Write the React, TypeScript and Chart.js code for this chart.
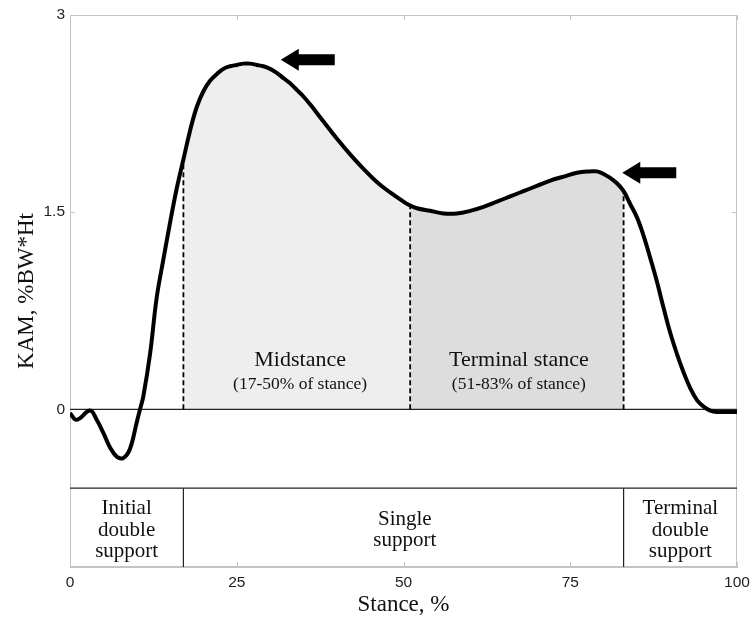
import React, { useEffect, useRef } from "react";
import { Chart, registerables } from "chart.js";

Chart.register(...registerables);

// Knee adduction moment curve (x = stance %, y = %BW*Ht)
const stanceX = [0, 1, 3, 4, 5, 6, 7, 8, 9, 10, 10.5, 11, 12, 13, 14, 15, 16, 17, 18, 19, 20, 21, 22, 23, 24, 25, 26, 27, 28, 29, 30, 31, 32, 33, 34, 35, 36, 38, 40, 42, 44, 46, 48, 50, 51, 52, 54, 56, 58, 60, 62, 64, 66, 68, 70, 72, 74, 76, 78, 79, 80, 81, 82, 83, 84, 85, 86, 87, 88, 89, 90, 91, 92, 93, 94, 95, 96, 97, 100];
const kamY = [-0.03, -0.08, -0.01, -0.08, -0.18, -0.29, -0.36, -0.37, -0.3, -0.1, 0.0, 0.1, 0.42, 0.85, 1.14, 1.42, 1.68, 1.9, 2.12, 2.3, 2.42, 2.5, 2.55, 2.59, 2.61, 2.62, 2.63, 2.63, 2.62, 2.61, 2.59, 2.56, 2.52, 2.48, 2.43, 2.38, 2.32, 2.19, 2.06, 1.94, 1.83, 1.73, 1.65, 1.58, 1.55, 1.53, 1.51, 1.49, 1.49, 1.51, 1.54, 1.58, 1.62, 1.66, 1.7, 1.74, 1.77, 1.8, 1.81, 1.81, 1.79, 1.76, 1.72, 1.66, 1.56, 1.46, 1.32, 1.15, 0.97, 0.77, 0.58, 0.42, 0.28, 0.16, 0.07, 0.02, -0.01, -0.02, -0.02];

// Stance phase boundaries
const phaseBounds = [17, 51, 83];
const phaseFills = ["#eeeeee", "#dddddd"];
const phaseNames = ["Midstance", "Terminal stance"];
const phaseSubs = ["(17-50% of stance)", "(51-83% of stance)"];
const phaseLabelX = [34.5, 67.3];

// Support periods
const supportBounds = [17, 83];
const supportNames = [["Initial", "double", "support"], ["Single", "support"], ["Terminal", "double", "support"]];
const supportLabelX = [8.5, 50.2, 91.5];

// Arrows (tip positions)
const arrowTipX = [31.6, 82.8];
const arrowTipY = [2.66, 1.8];

const xTicks = [0, 25, 50, 75, 100];
const yTicks = [0, 1.5, 3];
const yMin = -1.2;
const yMax = 3;
const bandY = -0.6;
const phaseLabelY = 0.37;
const phaseSubY = 0.19;
const supportLabelY = -0.92;

const curve = stanceX.map((x, i) => ({ x, y: kamY[i] }));
const valueAt = (x: number) => kamY[stanceX.indexOf(x)];

const annotPlugin = {
  id: "annot",
  beforeDatasetsDraw(chart: any) {
    const { ctx, chartArea: a, scales } = chart;
    const xs = scales.x, ys = scales.y;
    ctx.save();
    ctx.strokeStyle = "#c4c4c4";
    ctx.lineWidth = 1;
    ctx.strokeRect(a.left + 0.5, a.top + 0.5, a.right - a.left - 1, a.bottom - a.top - 1);
    // inward ticks
    xTicks.forEach((v) => {
      const px = Math.round(xs.getPixelForValue(v)) + 0.5;
      ctx.beginPath();
      ctx.moveTo(px, a.bottom);
      ctx.lineTo(px, a.bottom - 5);
      ctx.moveTo(px, a.top);
      ctx.lineTo(px, a.top + 5);
      ctx.stroke();
    });
    yTicks.forEach((v) => {
      const py = Math.round(ys.getPixelForValue(v)) + 0.5;
      ctx.beginPath();
      ctx.moveTo(a.left, py);
      ctx.lineTo(a.left + 5, py);
      ctx.moveTo(a.right, py);
      ctx.lineTo(a.right - 5, py);
      ctx.stroke();
    });
    ctx.restore();
  },
  afterDatasetsDraw(chart: any) {
    const { ctx, scales } = chart;
    const xs = scales.x, ys = scales.y;
    ctx.save();
    ctx.fillStyle = "#111";
    ctx.textAlign = "center";
    ctx.textBaseline = "middle";
    phaseNames.forEach((n, i) => {
      const px = xs.getPixelForValue(phaseLabelX[i]);
      ctx.font = "22px 'Liberation Serif'";
      ctx.fillText(n, px, ys.getPixelForValue(phaseLabelY));
      ctx.font = "17.5px 'Liberation Serif'";
      ctx.fillText(phaseSubs[i], px, ys.getPixelForValue(phaseSubY));
    });
    ctx.font = "21px 'Liberation Serif'";
    supportNames.forEach((lines, i) => {
      const px = xs.getPixelForValue(supportLabelX[i]);
      const cy = ys.getPixelForValue(supportLabelY);
      const lh = 21.5;
      lines.forEach((t, j) => {
        ctx.fillText(t, px, cy + (j - (lines.length - 1) / 2) * lh);
      });
    });
    // arrows
    ctx.fillStyle = "#000";
    arrowTipX.forEach((ax, i) => {
      const tx = xs.getPixelForValue(ax);
      const ty = ys.getPixelForValue(arrowTipY[i]);
      ctx.beginPath();
      ctx.moveTo(tx, ty);
      ctx.lineTo(tx + 18, ty - 11);
      ctx.lineTo(tx + 18, ty - 5.5);
      ctx.lineTo(tx + 54, ty - 5.5);
      ctx.lineTo(tx + 54, ty + 5.5);
      ctx.lineTo(tx + 18, ty + 5.5);
      ctx.lineTo(tx + 18, ty + 11);
      ctx.closePath();
      ctx.fill();
    });
    ctx.restore();
  },
};

export default function App() {
  const ref = useRef<HTMLCanvasElement>(null);
  useEffect(() => {
    if (!ref.current) return;
    const datasets: any[] = [
      {
        data: curve,
        borderColor: "#000",
        borderWidth: 4,
        pointRadius: 0,
        tension: 0.4,
        fill: false,
        order: 0,
      },
    ];
    // dashed boundary lines
    phaseBounds.forEach((b) => {
      datasets.push({
        data: [{ x: b, y: 0 }, { x: b, y: valueAt(b) }],
        borderColor: "#000",
        borderWidth: 1.8,
        borderDash: [5, 3],
        pointRadius: 0,
        fill: false,
        order: 1,
      });
    });
    // zero line and support band lines
    datasets.push({
      data: [{ x: 0, y: 0 }, { x: 100, y: 0 }],
      borderColor: "#222",
      borderWidth: 1.2,
      pointRadius: 0,
      fill: false,
      order: 1,
    });
    datasets.push({
      data: [{ x: 0, y: bandY }, { x: 100, y: bandY }],
      borderColor: "#222",
      borderWidth: 1.2,
      pointRadius: 0,
      fill: false,
      order: 1,
    });
    supportBounds.forEach((b) => {
      datasets.push({
        data: [{ x: b, y: bandY }, { x: b, y: yMin }],
        borderColor: "#222",
        borderWidth: 1.2,
        pointRadius: 0,
        fill: false,
        order: 1,
      });
    });
    // phase fills
    for (let i = 0; i < phaseBounds.length - 1; i++) {
      const lo = phaseBounds[i], hi = phaseBounds[i + 1];
      datasets.push({
        data: curve.filter((p) => p.x >= lo && p.x <= hi),
        borderWidth: 0,
        borderColor: "rgba(0,0,0,0)",
        backgroundColor: phaseFills[i],
        pointRadius: 0,
        tension: 0.4,
        fill: { value: 0 },
        order: 5,
      });
    }
    const chart = new Chart(ref.current, {
      type: "line",
      data: { datasets },
      options: {
        animation: false,
        responsive: false,
        devicePixelRatio: 1,
        layout: { padding: { top: 15, right: 15, left: 0, bottom: 0 } },
        plugins: { legend: { display: false }, tooltip: { enabled: false } },
        scales: {
          x: {
            type: "linear",
            min: 0,
            max: 100,
            grid: { display: false, drawTicks: false },
            border: { display: true, color: "#c4c4c4" },
            afterBuildTicks: (s: any) => {
              s.ticks = xTicks.map((v) => ({ value: v }));
            },
            afterFit: (s: any) => {
              s.height = 59;
              s.paddingLeft = 0;
              s.paddingRight = 0;
            },
            ticks: {
              padding: 6,
              maxRotation: 0,
              color: "#222",
              font: { family: "'Liberation Sans'", size: 15.5 },
            },
            title: {
              display: true,
              text: "Stance, %",
              color: "#111",
              font: { family: "'Liberation Serif'", size: 23 },
              padding: { top: 0, bottom: 7 },
            },
          },
          y: {
            type: "linear",
            min: yMin,
            max: yMax,
            grid: { display: false, drawTicks: false },
            border: { display: true, color: "#c4c4c4" },
            afterBuildTicks: (s: any) => {
              s.ticks = yTicks.map((v) => ({ value: v }));
            },
            afterFit: (s: any) => {
              s.width = 70;
              s.paddingTop = 0;
              s.paddingBottom = 0;
            },
            ticks: {
              padding: 5,
              color: "#222",
              font: { family: "'Liberation Sans'", size: 15.5 },
              callback: (v: any) => String(v),
            },
            title: {
              display: true,
              text: "KAM, %BW*Ht",
              color: "#111",
              font: { family: "'Liberation Serif'", size: 23 },
              padding: { top: 13, bottom: 0 },
            },
          },
        },
      },
      plugins: [annotPlugin],
    } as any);
    return () => chart.destroy();
  }, []);
  return (
    <div style={{ position: "fixed", left: 0, top: 0, width: 752, height: 626, background: "#fff" }}>
      <canvas ref={ref} width={752} height={626} />
    </div>
  );
}
